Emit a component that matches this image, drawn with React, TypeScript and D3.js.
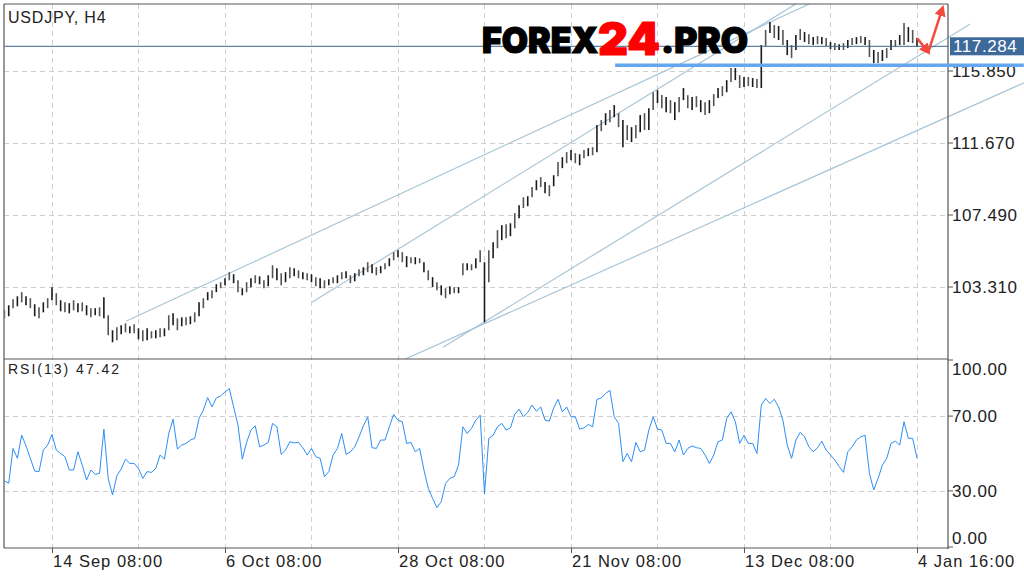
import React from "react";
import * as d3 from "d3";

// ---------- data ----------
const highs = [
  101.96, 102.25, 102.6, 102.77, 103.01, 102.77, 102.66, 102.31, 102.13, 102.42,
  102.66, 103.3, 102.95, 102.54, 102.42, 102.37, 102.54, 102.37, 102.42, 102.25,
  102.08, 102.08, 102.13, 102.71, 101.67, 100.8, 100.97, 101.09, 101.2, 101.03,
  101.15, 100.91, 100.8, 100.91, 100.74, 100.8, 100.91, 100.91, 101.67, 101.78,
  101.49, 101.55, 101.55, 101.61, 101.84, 102.42, 102.66, 103.01, 103.12, 103.47,
  103.59, 103.82, 104.17, 104.05, 103.7, 103.24, 103.59, 103.82, 103.99, 103.93,
  103.7, 103.99, 104.57, 104.4, 104.11, 104.17, 104.46, 104.4, 104.28, 104.17,
  104.11, 104.05, 103.88, 103.82, 103.7, 103.76, 103.88, 103.99, 104.17, 104.22,
  103.99, 104.11, 104.34, 104.46, 104.75, 104.63, 104.46, 104.52, 104.69, 104.98,
  105.33, 105.45, 105.33, 105.1, 105.04, 105.04, 104.98, 104.75, 104.28, 103.88,
  103.59, 103.41, 103.24, 103.35, 103.3, 103.3, 104.69, 104.69, 104.63, 104.98,
  105.45, 104.75, 105.45, 105.91, 106.61, 106.9, 106.96, 107.01, 107.6, 108.06,
  108.52, 108.58, 109.11, 109.51, 109.69, 109.4, 109.22, 109.8, 110.56, 110.85,
  111.14, 111.26, 111.08, 111.02, 111.26, 111.37, 111.43, 112.71, 113.0, 113.4,
  113.58, 113.87, 113.4, 113.0, 112.71, 112.59, 112.71, 113.29, 113.4, 113.69,
  114.62, 114.74, 114.45, 114.34, 114.16, 114.04, 114.34, 114.86, 114.45, 114.34,
  114.39, 114.16, 114.04, 114.16, 114.51, 114.86, 114.97, 115.32, 116.02, 116.02,
  115.61, 115.5, 115.5, 115.44, 115.38, 117.36, 118.23, 118.69, 118.52, 118.46,
  118.23, 117.65, 117.36, 117.94, 118.29, 118.11, 117.99, 117.82, 117.88, 117.82,
  117.76, 117.53, 117.47, 117.41, 117.47, 117.65, 117.76, 117.82, 117.88, 117.82,
  117.65, 117.07, 116.95, 117.07, 117.18, 117.65, 117.65, 117.94, 118.63, 118.4,
  118.23, 117.76,
];

const lows = [
  101.49, 101.61, 102.08, 102.19, 102.42, 102.25, 102.08, 101.61, 101.49, 101.84,
  102.08, 102.54, 102.25, 101.9, 101.84, 101.78, 101.96, 101.84, 101.9, 101.67,
  101.55, 101.67, 101.61, 101.49, 100.51, 100.1, 100.22, 100.57, 100.68, 100.62,
  100.62, 100.27, 100.16, 100.22, 100.33, 100.33, 100.39, 100.45, 100.8, 101.09,
  100.8, 101.03, 101.09, 101.15, 101.26, 101.61, 102.08, 102.54, 102.66, 103.01,
  103.24, 103.41, 103.7, 103.53, 103.01, 102.83, 103.01, 103.3, 103.53, 103.47,
  103.24, 103.35, 103.82, 103.7, 103.41, 103.59, 103.82, 103.93, 103.82, 103.76,
  103.7, 103.59, 103.35, 103.24, 103.24, 103.41, 103.53, 103.53, 103.76, 103.82,
  103.53, 103.64, 103.93, 103.99, 104.17, 104.11, 103.99, 104.11, 104.34, 104.52,
  104.86, 105.04, 104.75, 104.46, 104.69, 104.63, 104.69, 104.17, 103.7, 103.3,
  103.12, 102.83, 102.66, 102.89, 102.95, 102.95, 103.99, 104.28, 104.28, 104.4,
  104.75, 101.26, 103.59, 104.98, 105.56, 106.03, 106.14, 106.26, 106.72, 107.3,
  107.89, 108.0, 108.52, 108.93, 109.11, 108.76, 108.58, 109.16, 109.74, 110.21,
  110.5, 110.67, 110.5, 110.38, 110.79, 110.91, 110.96, 111.14, 112.36, 112.71,
  112.88, 113.17, 112.59, 111.43, 111.84, 111.72, 111.95, 112.3, 112.42, 112.42,
  113.58, 113.99, 113.69, 113.46, 113.4, 113.0, 113.46, 114.16, 113.69, 113.58,
  113.75, 113.46, 113.29, 113.4, 113.81, 114.28, 114.39, 114.62, 115.21, 115.32,
  114.86, 114.92, 114.97, 114.92, 114.86, 114.86, 117.3, 118.05, 117.76, 117.65,
  117.36, 116.77, 116.6, 117.07, 117.65, 117.53, 117.41, 117.36, 117.41, 117.41,
  117.3, 117.12, 117.07, 117.07, 117.07, 117.18, 117.36, 117.41, 117.47, 117.36,
  116.66, 116.31, 116.31, 116.43, 116.6, 117.07, 117.24, 117.36, 117.36, 117.53,
  117.47, 117.24,
];

const rsi = [
  35.3, 34.1, 52.7, 47.4, 59.8, 54.1, 47.4, 40.6, 40.3, 51.8,
  54.5, 60.2, 51.8, 50.0, 48.3, 41.2, 41.2, 50.9, 43.8, 35.8,
  41.2, 38.8, 39.4, 63.0, 36.7, 27.8, 38.1, 41.7, 47.0, 44.7,
  44.7, 42.0, 36.7, 40.3, 39.9, 42.0, 49.2, 47.0, 60.7, 68.4,
  52.4, 54.5, 55.4, 57.2, 58.1, 68.7, 73.2, 79.9, 74.9, 79.7,
  80.8, 82.9, 84.7, 74.9, 65.2, 47.0, 55.9, 62.5, 64.8, 53.6,
  54.5, 55.9, 66.1, 64.3, 49.5, 51.8, 56.3, 55.7, 55.9, 53.1,
  49.2, 52.7, 48.3, 47.4, 37.6, 40.3, 49.2, 52.7, 60.7, 49.5,
  50.9, 53.6, 58.9, 64.8, 69.6, 53.1, 52.7, 57.2, 57.2, 64.3,
  70.9, 67.8, 67.0, 55.4, 55.9, 50.9, 52.7, 41.2, 31.4, 26.0,
  21.0, 24.3, 34.0, 36.7, 37.6, 43.8, 64.3, 60.7, 63.4, 67.8,
  70.5, 28.5, 58.1, 59.8, 64.3, 66.1, 62.5, 63.7, 70.9, 73.7,
  69.6, 72.0, 75.9, 72.6, 74.9, 67.8, 67.3, 74.4, 79.0, 72.3,
  74.9, 69.6, 69.6, 63.0, 63.7, 65.5, 64.3, 78.9, 79.7, 82.1,
  83.8, 69.6, 66.1, 45.6, 50.0, 45.6, 55.9, 50.9, 51.8, 62.5,
  69.6, 63.0, 62.5, 55.4, 55.4, 50.9, 57.2, 49.2, 52.7, 54.1,
  53.1, 52.7, 49.2, 44.7, 49.2, 56.3, 57.2, 68.7, 72.3, 67.0,
  55.4, 59.8, 55.4, 55.4, 50.0, 75.9, 79.4, 76.7, 79.0, 74.9,
  67.8, 54.5, 47.4, 57.2, 61.3, 58.9, 53.6, 50.9, 53.1, 56.6,
  51.8, 49.2, 46.5, 43.0, 39.9, 50.9, 53.6, 57.2, 58.9, 59.8,
  39.4, 30.5, 36.7, 43.8, 47.4, 55.4, 56.6, 54.5, 67.0, 58.1,
  58.1, 47.42,
];

const timeLabels = ["14 Sep 08:00", "6 Oct 08:00", "28 Oct 08:00", "21 Nov 08:00", "13 Dec 08:00", "4 Jan 16:00"];
const timeLabelIndex = [11, 51, 91, 131, 171, 211];
const gridIndex = [11, 31, 51, 71, 91, 111, 131, 151, 171, 191, 211];
const priceTicks = [115.85, 111.67, 107.49, 103.31];
const rsiTicks = [100, 70, 30, 0];
const rsiGrid = [70, 30];
const currentPrice = 117.284;
const rsiCurrent = 47.42;
const supportLevel = 116.19;
const supportRange = [141.2, 235.7];
// trend lines: [startIndex, startPrice, endIndex, endPrice]
const trendLines = [
  [28.1, 101.32, 192.0, 120.43],
  [71.1, 102.42, 187.4, 120.43],
  [101.4, 99.81, 223.3, 118.58],
  [91.0, 98.94, 235.7, 115.16],
];
// forecast arrow path: [index, price]
const arrowDown = [[211.0, 117.76], [213.6, 116.95]];
const arrowUp = [[213.6, 116.95], [216.9, 119.5]];

const FONT = "'Liberation Sans', Arial, Helvetica, sans-serif";

export default function App() {
  const n = highs.length;
  const x = d3.scaleLinear().domain([0, n - 1]).range([4.4, 917]);
  const y = d3.scaleLinear().domain([99.13, 119.74]).range([359, 4]);
  const yr = d3.scaleLinear().domain([0, 100]).range([547, 360]);

  const left = 4, right = 948, top = 4, sep = 359, bottom = 548;

  const rsiPath = d3.line<number>().x((_, i) => x(i)).y((d) => yr(d))(rsi) || "";
  const seg = d3.line<number[]>().x((d) => x(d[0])).y((d) => y(d[1]));

  const grid = "#cfcfcf";

  return (
    <svg width={1024} height={577} style={{ position: "fixed", left: 0, top: 0, background: "#fff" }} fontFamily={FONT}>
      <defs>
        <clipPath id="mainClip">
          <rect x={left} y={top} width={1024 - left} height={sep - top} />
        </clipPath>
        <clipPath id="barClip">
          <rect x={left} y={top} width={right - left} height={sep - top} />
        </clipPath>
        <marker id="ah" viewBox="0 0 10 10" refX="7" refY="5" markerWidth="4.5" markerHeight="4.5" orient="auto-start-reverse">
          <path d="M0,0 L10,5 L0,10 z" fill="#f24a3c" />
        </marker>
      </defs>
      <rect x={0} y={0} width={1024} height={577} fill="#fff" />

      {/* grid */}
      {gridIndex.map((g) => (
        <line key={"vg" + g} x1={Math.round(x(g)) + 0.5} x2={Math.round(x(g)) + 0.5} y1={top} y2={bottom} stroke={grid} strokeDasharray="5,4" />
      ))}
      {priceTicks.map((p) => (
        <line key={"hg" + p} x1={left} x2={right} y1={Math.round(y(p)) + 0.5} y2={Math.round(y(p)) + 0.5} stroke={grid} strokeDasharray="5,4" />
      ))}
      {rsiGrid.map((r) => (
        <line key={"rg" + r} x1={left} x2={right} y1={Math.round(yr(r)) + 0.5} y2={Math.round(yr(r)) + 0.5} stroke={grid} strokeDasharray="5,4" />
      ))}

      {/* trend lines */}
      <g clipPath="url(#mainClip)">
        {trendLines.map((t, k) => (
          <line key={"tl" + k} x1={x(t[0])} y1={y(t[1])} x2={x(t[2])} y2={y(t[3])} stroke="#aac5d6" strokeWidth={1.2} />
        ))}
      </g>

      {/* bars */}
      <g clipPath="url(#barClip)">
        {highs.map((h, i) => (
          <line key={"b" + i} x1={x(i)} x2={x(i)} y1={y(h)} y2={y(lows[i])} stroke={i % 2 ? "#1a1a1a" : "#555"} strokeWidth={1.6} />
        ))}
      </g>

      {/* current price line */}
      <line x1={left} x2={right} y1={y(currentPrice)} y2={y(currentPrice)} stroke="#3a6591" strokeWidth={1} />

      {/* RSI */}
      <path d={rsiPath} fill="none" stroke="#2b8ef5" strokeWidth={1} />

      {/* frames */}
      <line x1={left} x2={left} y1={top} y2={bottom} stroke="#777" strokeWidth={1.5} />
      <line x1={left} x2={right} y1={top} y2={top} stroke="#555" strokeWidth={1.2} />
      <line x1={left} x2={right} y1={sep} y2={sep} stroke="#555" strokeWidth={1.2} />
      <line x1={left} x2={right} y1={bottom} y2={bottom} stroke="#555" strokeWidth={1.2} />
      <line x1={right} x2={right} y1={top} y2={bottom + 1} stroke="#555" strokeWidth={1.2} />

      {/* price axis */}
      {priceTicks.map((p) => (
        <g key={"pt" + p}>
          <line x1={right} x2={right + 5} y1={y(p)} y2={y(p)} stroke="#555" />
          <text x={952} y={y(p)} dy="0.36em" fontSize={17} letterSpacing={0.6} fill="#222">{p.toFixed(3)}</text>
        </g>
      ))}
      {rsiTicks.map((r) => (
        <g key={"rt" + r}>
          <line x1={right} x2={right + 5} y1={yr(r)} y2={yr(r)} stroke="#555" />
          <text x={952} y={yr(r) + (r === 100 ? 9 : r === 0 ? -9 : 0)} dy="0.36em" fontSize={17} letterSpacing={0.6} fill="#222">{r.toFixed(2)}</text>
        </g>
      ))}

      {/* current price label */}
      <rect x={950} y={y(currentPrice) - 9} width={74} height={18} fill="#3d6a9a" />
      <text x={953} y={y(currentPrice)} dy="0.36em" fontSize={17} letterSpacing={0.6} fill="#fff">{currentPrice.toFixed(3)}</text>

      {/* time axis */}
      {timeLabelIndex.map((ti, k) => (
        <g key={"tt" + ti}>
          <line x1={Math.round(x(ti)) + 0.5} x2={Math.round(x(ti)) + 0.5} y1={bottom} y2={bottom + 5} stroke="#555" />
          <text x={Math.round(x(ti)) + 1} y={567} fontSize={16.5} letterSpacing={1} fill="#222">{timeLabels[k]}</text>
        </g>
      ))}

      {/* titles */}
      <text x={8} y={23} fontSize={16} letterSpacing={0.8} fill="#222">USDJPY, H4</text>
      <text x={8} y={374} fontSize={14} letterSpacing={2} fill="#222">{"RSI(13) " + rsiCurrent.toFixed(2)}</text>

      {/* support line */}
      <line x1={x(supportRange[0])} x2={x(supportRange[1])} y1={y(supportLevel)} y2={y(supportLevel)} stroke="#64a6f0" strokeWidth={3.5} />

      {/* logo */}
      <g fontFamily="Inter, Lato, 'DejaVu Sans', sans-serif" fontWeight={900}>
        <text x={482} y={53} fontSize={35} textLength={116} lengthAdjust="spacingAndGlyphs" fill="#000" stroke="#000" strokeWidth={1.2}>FOREX</text>
        <text x={598} y={55} fontSize={45} textLength={62} lengthAdjust="spacingAndGlyphs" fill="#ff0000" stroke="#ff0000" strokeWidth={1.2}>24</text>
        <text x={661} y={53} fontSize={35} textLength={87} lengthAdjust="spacingAndGlyphs" fill="#000" stroke="#000" strokeWidth={1.2}>.PRO</text>
      </g>

      {/* forecast arrow */}
      <path d={seg(arrowDown as any) || ""} stroke="#f24a3c" strokeWidth={2.5} fill="none" markerEnd="url(#ah)" />
      <path d={seg(arrowUp as any) || ""} stroke="#f24a3c" strokeWidth={2.5} fill="none" markerEnd="url(#ah)" />
    </svg>
  );
}
